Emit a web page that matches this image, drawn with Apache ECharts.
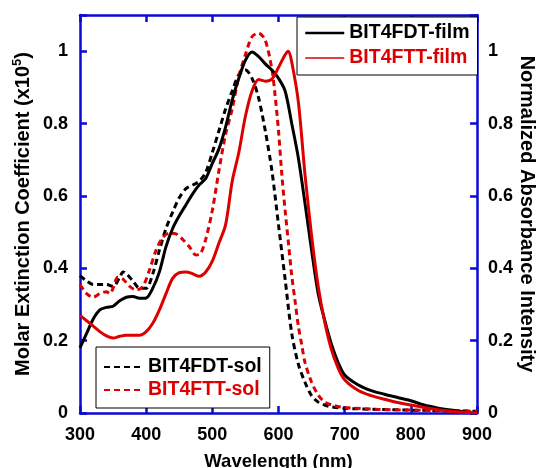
<!DOCTYPE html>
<html><head><meta charset="utf-8">
<script src="https://cdn.jsdelivr.net/npm/echarts@6/dist/echarts.min.js"></script>
<style>html,body{margin:0;padding:0;background:#fff}#c{width:539px;height:468px}</style>
</head><body><div id="c"></div>
<script>
// ---- data ----
const xTicks = [300, 400, 500, 600, 700, 800, 900];
const yTicks = [0, 0.2, 0.4, 0.6, 0.8, 1];

const wlFdtFilm = [300,310,320,330,340,350,360,370,380,390,400,410,420,430,440,450,460,470,480,490,500,510,520,530,540,550,560,570,580,590,600,610,620,630,640,650,660,670,680,690,700,720,740,760,780,800,820,840,860,880,900];
const fdtFilm   = [0.18,0.22,0.26,0.285,0.292,0.295,0.31,0.32,0.322,0.317,0.318,0.345,0.39,0.46,0.51,0.545,0.575,0.605,0.63,0.648,0.69,0.73,0.79,0.865,0.925,0.975,0.998,0.985,0.965,0.948,0.925,0.89,0.80,0.705,0.58,0.45,0.33,0.255,0.19,0.14,0.105,0.078,0.062,0.052,0.043,0.034,0.022,0.014,0.008,0.003,0.0];

const wlFttFilm = [300,310,320,330,340,350,360,370,380,390,400,410,420,430,440,450,460,470,480,490,500,510,520,530,540,550,560,570,580,590,600,610,615,620,630,640,650,660,670,680,690,700,720,740,760,780,800,820,840,860,880,900];
const fttFilm   = [0.27,0.255,0.24,0.225,0.213,0.207,0.212,0.215,0.215,0.215,0.225,0.248,0.285,0.33,0.372,0.388,0.39,0.385,0.378,0.39,0.42,0.47,0.52,0.64,0.72,0.82,0.89,0.922,0.917,0.923,0.955,0.99,1.0,0.97,0.86,0.66,0.49,0.35,0.25,0.175,0.125,0.092,0.063,0.048,0.038,0.029,0.022,0.015,0.009,0.005,0.002,0.0];

const wlFdtSol = [300,310,320,330,340,350,360,365,370,380,390,400,410,420,430,440,450,460,470,480,490,500,510,520,530,540,550,560,570,580,590,600,610,620,630,640,650,660,670,680,700,750,800,850,900];
const fdtSol   = [0.38,0.365,0.355,0.355,0.355,0.35,0.375,0.39,0.385,0.365,0.345,0.345,0.385,0.45,0.51,0.555,0.595,0.62,0.63,0.64,0.665,0.72,0.78,0.84,0.89,0.935,0.948,0.925,0.87,0.78,0.67,0.52,0.37,0.22,0.135,0.085,0.048,0.03,0.022,0.017,0.013,0.01,0.008,0.006,0.005];

const wlFttSol = [300,310,320,330,340,345,350,357,365,375,385,395,405,415,425,435,445,455,465,475,482,490,500,510,520,530,540,550,560,570,580,590,595,600,605,610,615,620,625,630,635,640,650,660,670,685,700,750,800,850,900];
const fttSol   = [0.355,0.33,0.32,0.33,0.335,0.33,0.345,0.375,0.37,0.35,0.34,0.35,0.395,0.45,0.485,0.497,0.495,0.48,0.46,0.437,0.44,0.48,0.56,0.67,0.77,0.84,0.93,0.99,1.04,1.05,1.03,0.95,0.875,0.78,0.66,0.56,0.47,0.38,0.31,0.24,0.19,0.14,0.085,0.05,0.03,0.02,0.015,0.01,0.008,0.006,0.005];

const names = ['BIT4FDT-film', 'BIT4FTT-film', 'BIT4FDT-sol', 'BIT4FTT-sol'];

// ---- chart ----
const BLUE = '#0a0ad2';
const RED = '#dd0000';
const FONT = 'Arial, "Liberation Sans", sans-serif';
const zip = (a, b) => a.map((x, i) => [x, b[i]]);

const axisCommon = {
  axisLine: { show: true, onZero: false, lineStyle: { color: BLUE, width: 2.5 } },
  axisTick: { show: true, inside: true, length: 7, lineStyle: { color: BLUE, width: 2.5 } },
  splitLine: { show: false },
  axisLabel: { color: '#000', fontWeight: 'bold', fontSize: 18, fontFamily: FONT }
};
const yFmt = v => { if (v > 1.05) return ''; const r = Math.round(v * 10) / 10; return String(r); };
const hideSym = { color: 'rgba(0,0,0,0)', borderWidth: 0 };

const chart = echarts.init(document.getElementById('c'), null, { renderer: 'canvas' });
chart.setOption({
  animation: false,
  backgroundColor: '#fff',
  grid: { left: 80, right: 62, top: 15, bottom: 55, containLabel: false, outerBoundsMode: 'none' },
  xAxis: [
    Object.assign({}, axisCommon, {
      type: 'value', min: 300, max: 900, interval: 100, position: 'bottom',
      name: 'Wavelength (nm)', nameLocation: 'middle', nameGap: 39, nameMoveOverlap: false,
      nameTextStyle: { color: '#000', fontWeight: 'bold', fontSize: 18.5, fontFamily: FONT },
      axisLabel: Object.assign({}, axisCommon.axisLabel, { margin: 13 })
    }),
    Object.assign({}, axisCommon, {
      type: 'value', min: 300, max: 900, interval: 100, position: 'top',
      axisLabel: { show: false }
    })
  ],
  yAxis: [
    Object.assign({}, axisCommon, {
      type: 'value', min: 0, max: 1.1, interval: 0.2, position: 'left',
      name: 'Molar Extinction Coefficient (x10{sup|5})', nameLocation: 'middle', nameGap: 45, nameRotate: 90,
      nameMoveOverlap: false,
      nameTextStyle: { color: '#000', fontWeight: 'bold', fontSize: 20, fontFamily: FONT,
        rich: { sup: { fontSize: 13, fontWeight: 'bold', fontFamily: FONT, color: '#000', padding: [0, 0, 11, 0] } } },
      axisLabel: Object.assign({}, axisCommon.axisLabel, { margin: 12, formatter: yFmt })
    }),
    Object.assign({}, axisCommon, {
      type: 'value', min: 0, max: 1.1, interval: 0.2, position: 'right',
      name: 'Normalized Absorbance Intensity', nameLocation: 'middle', nameGap: 40, nameRotate: -90,
      nameMoveOverlap: false,
      nameTextStyle: { color: '#000', fontWeight: 'bold', fontSize: 20, fontFamily: FONT },
      axisLabel: Object.assign({}, axisCommon.axisLabel, { margin: 11, formatter: yFmt })
    })
  ],
  legend: [
    {
      left: 297, top: 17, orient: 'vertical', itemGap: 5, itemWidth: 39, itemHeight: 14,
      padding: [6, 8, 7, 7], borderColor: '#000', borderWidth: 1, backgroundColor: '#fff',
      textStyle: { fontWeight: 'bold', fontSize: 19.5, fontFamily: FONT },
      itemStyle: hideSym,
      data: [
        { name: names[0], textStyle: { color: '#000' }, lineStyle: { width: 2.5 } },
        { name: names[1], textStyle: { color: RED }, lineStyle: { width: 1.5 } }
      ]
    },
    {
      left: 96, top: 347, orient: 'vertical', itemGap: 3, itemWidth: 39, itemHeight: 14,
      padding: [10, 8, 8, 7], borderColor: '#000', borderWidth: 1, backgroundColor: '#fff',
      textStyle: { fontWeight: 'bold', fontSize: 19.5, fontFamily: FONT },
      itemStyle: hideSym,
      data: [
        { name: names[2], textStyle: { color: '#000' } },
        { name: names[3], textStyle: { color: RED } }
      ]
    }
  ],
  series: [
    { name: names[2], type: 'line', data: zip(wlFdtSol, fdtSol), symbol: 'none', smooth: 0.3,
      lineStyle: { color: '#000', width: 3, type: [6, 4] }, itemStyle: { color: '#000' } },
    { name: names[3], type: 'line', data: zip(wlFttSol, fttSol), symbol: 'none', smooth: 0.3,
      lineStyle: { color: RED, width: 3, type: [6, 4] }, itemStyle: { color: RED } },
    { name: names[0], type: 'line', data: zip(wlFdtFilm, fdtFilm), symbol: 'none', smooth: 0.3,
      lineStyle: { color: '#000', width: 3 }, itemStyle: { color: '#000' } },
    { name: names[1], type: 'line', data: zip(wlFttFilm, fttFilm), symbol: 'none', smooth: 0.3,
      lineStyle: { color: RED, width: 3 }, itemStyle: { color: RED } }
  ]
});
</script>
</body></html>
